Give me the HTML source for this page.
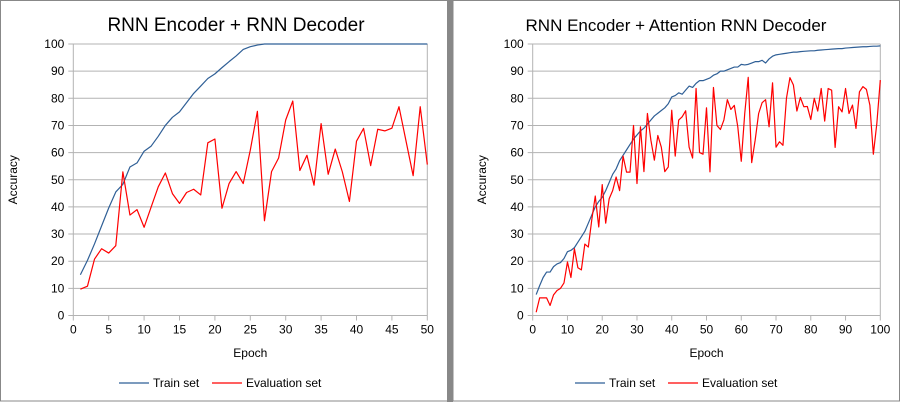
<!DOCTYPE html>
<html><head><meta charset="utf-8"><style>
body{margin:0;width:900px;height:402px;background:#fff;overflow:hidden;font-family:"Liberation Sans",sans-serif}
svg text{font-family:"Liberation Sans",sans-serif}
</style></head><body>
<svg id="svg" width="900" height="402">
<rect x="0" y="0" width="900" height="402" fill="#fff"/>
<rect x="0.5" y="0.5" width="447" height="400.5" fill="none" stroke="#888"/>
<rect x="447" y="0" width="6" height="402" fill="#888"/>
<rect x="453" y="0.5" width="446.5" height="400.5" fill="none" stroke="#888"/>
</svg>
<script>
const leftEpochMax = 50;
const leftTrain = [15,20.3,26.4,33,39.6,45.5,48.3,54.7,56.2,60.5,62.4,66,70,73,75,78.4,81.8,84.5,87.3,89,91.3,93.5,95.6,98,99,99.6,100,100,100,100,100,100,100,100,100,100,100,100,100,100,100,100,100,100,100,100,100,100,100,100];
const leftEval = [9.7,10.8,20.8,24.6,23,25.7,52.9,37,39,32.5,40,47.4,52.5,44.9,41.3,45.3,46.5,44.4,63.6,65,39.5,48.6,53,48.6,60.9,75.2,34.9,53,58,72,79,53.4,59,48,70.7,52,61.3,52.9,42,64.2,68.9,55.2,68.6,68,69,76.9,64.2,51.5,76.9,55.6];
const leftXTicks = [0,5,10,15,20,25,30,35,40,45,50];
const rightEpochMax = 100;
const rightTrain = [7.7,11,14,16,16,18,19,19.5,21,23.5,24,25,27,29,31,34,37,40,42,43.5,46,49,52,54,57,59,61,63,65,66.5,68,69,70.5,72,73.5,74.5,75.5,76.5,78,80.5,81,82,81.5,83,84.5,84,85.5,86.5,86.5,87,87.5,88.5,89,90,90,90.5,91,91.5,91.5,92.5,92.3,92.5,93,93.5,93.5,94,93,94.5,95.5,96,96.2,96.4,96.6,96.8,97,97,97.2,97.3,97.4,97.5,97.5,97.7,97.8,97.9,98,98.1,98.2,98.3,98.3,98.5,98.6,98.7,98.8,98.9,99,99,99.1,99.2,99.2,99.3];
const rightEval = [1.2,6.5,6.5,6.5,3.7,7.6,9.2,10,12,19.7,14,24.6,17.6,16.8,26.3,25.2,35.3,44,32.6,48.2,34,43,46,51,46,58.7,52.8,52.8,70,48.6,69.5,53,74.4,64.6,57.2,66.3,62,53,54.7,75.6,58.7,72,73.2,75.4,62,58,83.6,60,59.4,76.5,52.9,84,70,68.5,72,79.5,75.9,77.4,69.5,56.8,74.4,87.7,56.3,64.6,74.4,78.4,79.5,69.5,85.7,62,64,62.7,80,87.6,84.9,75.3,80.3,76.9,77,72.2,80,75.3,83.6,71.6,83.6,83,61.9,76.9,75,83.6,74.4,77.5,68.9,82.4,84.3,83.3,77.5,59.4,70.7,86.7];
const rightXTicks = [0,10,20,30,40,50,60,70,80,90,100];
const yTicks = [0,10,20,30,40,50,60,70,80,90,100];

const NS="http://www.w3.org/2000/svg";
const svg=document.getElementById('svg');
function mk(tag,attrs,parent){const e=document.createElementNS(NS,tag);for(const k in attrs)e.setAttribute(k,attrs[k]);(parent||svg).appendChild(e);return e;}

function chart(cfg){
  const g=mk('g',{});
  
  
  const X=v=>cfg.x0+(cfg.x1-cfg.x0)*v/cfg.xmax;
  const Y=v=>cfg.y0-(cfg.y0-cfg.y1)*v/100;
  yTicks.forEach(t=>{
    const l=mk('line',{x1:cfg.x0-5,x2:cfg.x1,y1:Y(t),y2:Y(t),stroke:'#b3b3b3','stroke-width':1},g);
    
    
    const tx=mk('text',{x:cfg.x0-9,y:Y(t)+4,'text-anchor':'end','font-size':12,fill:'#000'},g);
    tx.textContent=t;
    
    
  });
  mk('line',{x1:cfg.x0,x2:cfg.x0,y1:cfg.y1,y2:cfg.y0,stroke:'#b3b3b3'},g);
  mk('line',{x1:cfg.x1,x2:cfg.x1,y1:cfg.y1,y2:cfg.y0,stroke:'#b3b3b3'},g);
  cfg.xticks.forEach(t=>{
    mk('line',{x1:X(t),x2:X(t),y1:cfg.y0,y2:cfg.y0+5,stroke:'#b3b3b3'},g);
    const tx=mk('text',{x:X(t),y:cfg.y0+18,'text-anchor':'middle','font-size':12,fill:'#000'},g);
    tx.textContent=t;
    
    
  });
  const line=(arr,col,nm)=>{
    const p=mk('polyline',{points:arr.map((v,i)=>X(i+1)+','+Y(v)).join(' '),fill:'none',stroke:col,'stroke-width':1.2,'stroke-linejoin':'round'},g);
    
    
  };
  line(cfg.train,'#2f5f96','train-line');
  line(cfg.eval,'#ff0000','eval-line');
  const ti=mk('text',{x:cfg.titleX,y:31,'text-anchor':'middle','font-size':cfg.titleSize,fill:'#000'},g);
  ti.textContent=cfg.title;
  
  
  const xl=mk('text',{x:(cfg.x0+cfg.x1)/2,y:357,'text-anchor':'middle','font-size':12,fill:'#000'},g);
  xl.textContent='Epoch';
  
  
  const yl=mk('text',{x:0,y:0,'text-anchor':'middle','font-size':12,fill:'#000',transform:`translate(${cfg.yTitleX},${(cfg.y0+cfg.y1)/2}) rotate(-90)`},g);
  yl.textContent='Accuracy';
  
  
  const lx=cfg.legX;
  mk('line',{x1:lx,x2:lx+30,y1:383,y2:383,stroke:'#2f5f96','stroke-width':1.2},g);
  const t1=mk('text',{x:lx+34,y:387,'font-size':12,fill:'#000'},g);t1.textContent='Train set';
  
  
  mk('line',{x1:lx+93,x2:lx+123,y1:383,y2:383,stroke:'#ff0000','stroke-width':1.2},g);
  const t2=mk('text',{x:lx+127,y:387,'font-size':12,fill:'#000'},g);t2.textContent='Evaluation set';
  
  
}
chart({name:'left-chart',x0:73.3,x1:427.3,y0:315.5,y1:44,xmax:leftEpochMax,xticks:leftXTicks,train:leftTrain,eval:leftEval,title:'RNN Encoder + RNN Decoder',titleX:236,titleSize:19,yTitleX:17,legX:119});
chart({name:'right-chart',x0:532.7,x1:880.3,y0:315.5,y1:44,xmax:rightEpochMax,xticks:rightXTicks,train:rightTrain,eval:rightEval,title:'RNN Encoder + Attention RNN Decoder',titleX:676,titleSize:17,yTitleX:486,legX:575});
</script>
</body></html>
